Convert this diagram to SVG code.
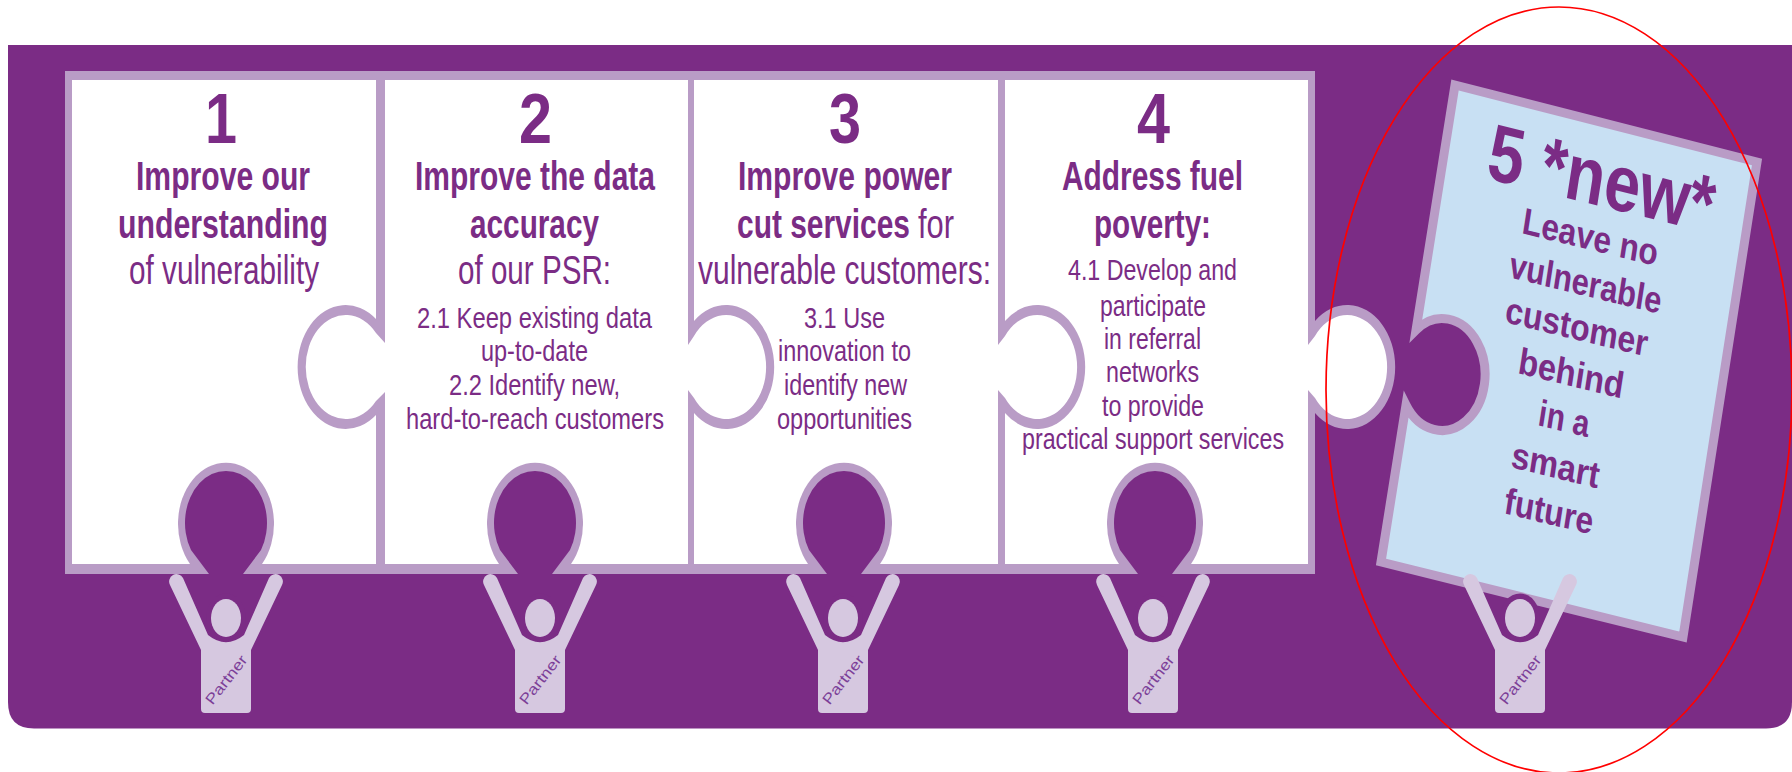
<svg xmlns="http://www.w3.org/2000/svg" width="1792" height="772" viewBox="0 0 1792 772">
<style>
text{font-family:"Liberation Sans",Arial,sans-serif;fill:#7b2c85}
.n{font-size:70px;font-weight:700}
.h{font-size:40px;font-weight:700}
.r{font-size:40px}
.s{font-size:30px}
.b{font-size:37px;font-weight:700}
.big{font-size:80px;font-weight:700}
.p{font-size:15px;fill:#7c3f98}
.f{fill:#b99cc6}
.w{fill:#fff}
.m{fill:#7b2c85}
</style>
<defs>
<g id="person">
<ellipse cx="0" cy="-32" rx="20" ry="24.5" fill="#7b2c85"/>
<path d="M-25,0L-56,-65A7,7 0 0 1 -43,-72L-18,-15Q0,-0.5 18,-15L43,-72A7,7 0 0 1 56,-65L25,0V59Q25,63 21,63H-21Q-25,63 -25,59Z" fill="#d6c8e0"/>
<ellipse cx="0" cy="-32" rx="15" ry="19" fill="#d6c8e0"/>
</g>
<g id="notch">
<path class="f" d="M-36,564A48,61 0 1 1 36,564Z"/>
<path class="m" d="M-17,574L-35,550A41,52 0 1 1 35,550L17,574Z"/>
</g>
</defs>
<path id="panel" class="m" d="M8,45H1792V702Q1792,728.5 1766,728.5H34Q8,728.5 8,702Z"/>
<rect id="frame" class="f" x="65" y="71" width="1250" height="503"/>
<g id="piece4">
<path class="f" d="M1315,321A48,62 0 1 1 1315,413Z"/>
<path class="w" d="M1308,345L1315,336A40,52 0 1 1 1315,398L1308,390Z"/>
<rect class="w" x="1005" y="80" width="303" height="484"/>
<use href="#notch" x="1155"/>
<text class="n" x="1137" y="143" textLength="33" lengthAdjust="spacingAndGlyphs">4</text>
<text class="h" x="1062" y="190" textLength="181" lengthAdjust="spacingAndGlyphs">Address fuel</text>
<text class="h" x="1094" y="238" textLength="117" lengthAdjust="spacingAndGlyphs">poverty:</text>
<text class="s" x="1068" y="280" textLength="169" lengthAdjust="spacingAndGlyphs">4.1 Develop and</text>
<text class="s" x="1100" y="316" textLength="106" lengthAdjust="spacingAndGlyphs">participate</text>
<text class="s" x="1104" y="349" textLength="97" lengthAdjust="spacingAndGlyphs">in referral</text>
<text class="s" x="1106" y="382" textLength="93" lengthAdjust="spacingAndGlyphs">networks</text>
<text class="s" x="1102" y="416" textLength="102" lengthAdjust="spacingAndGlyphs">to provide</text>
<text class="s" x="1022" y="449" textLength="262" lengthAdjust="spacingAndGlyphs">practical support services</text>
</g>
<g id="piece3">
<path class="f" d="M1005,321A48,62 0 1 1 1005,413Z"/>
<path class="w" d="M998,345L1005,336A40,52 0 1 1 1005,398L998,390Z"/>
<rect class="w" x="694" y="80" width="304" height="484"/>
<use href="#notch" x="844"/>
<text class="n" x="829" y="143" textLength="32" lengthAdjust="spacingAndGlyphs">3</text>
<text class="h" x="738" y="190" textLength="214" lengthAdjust="spacingAndGlyphs">Improve power</text>
<text class="h" x="737" y="238" textLength="173" lengthAdjust="spacingAndGlyphs">cut services</text>
<text class="r" x="918" y="238" textLength="36" lengthAdjust="spacingAndGlyphs">for</text>
<text class="r" x="698" y="284" textLength="293" lengthAdjust="spacingAndGlyphs">vulnerable customers:</text>
<text class="s" x="804" y="328" textLength="81" lengthAdjust="spacingAndGlyphs">3.1 Use</text>
<text class="s" x="778" y="361" textLength="133" lengthAdjust="spacingAndGlyphs">innovation to</text>
<text class="s" x="784" y="395" textLength="123" lengthAdjust="spacingAndGlyphs">identify new</text>
<text class="s" x="777" y="429" textLength="135" lengthAdjust="spacingAndGlyphs">opportunities</text>
</g>
<g id="piece1">
<rect class="w" x="72" y="80" width="304" height="484"/>
<use href="#notch" x="226"/>
<text class="n" x="205" y="143" textLength="32" lengthAdjust="spacingAndGlyphs">1</text>
<text class="h" x="136" y="190" textLength="174" lengthAdjust="spacingAndGlyphs">Improve our</text>
<text class="h" x="118" y="238" textLength="210" lengthAdjust="spacingAndGlyphs">understanding</text>
<text class="r" x="129" y="284" textLength="190" lengthAdjust="spacingAndGlyphs">of vulnerability</text>
</g>
<g id="piece2">
<path class="f" d="M376,319A48,62 0 1 0 376,415Z"/>
<path class="w" d="M385,343L376,333A40,52 0 1 0 376,401L385,392Z"/>
<path class="f" d="M694,321A48,62 0 1 1 694,413Z"/>
<path class="w" d="M688,345L694,336A40,52 0 1 1 694,398L688,390Z"/>
<rect class="w" x="385" y="80" width="303" height="484"/>
<use href="#notch" x="535"/>
<text class="n" x="519" y="143" textLength="33" lengthAdjust="spacingAndGlyphs">2</text>
<text class="h" x="415" y="190" textLength="240" lengthAdjust="spacingAndGlyphs">Improve the data</text>
<text class="h" x="470" y="238" textLength="129" lengthAdjust="spacingAndGlyphs">accuracy</text>
<text class="r" x="458" y="284" textLength="153" lengthAdjust="spacingAndGlyphs">of our PSR:</text>
<text class="s" x="417" y="328" textLength="235" lengthAdjust="spacingAndGlyphs">2.1 Keep existing data</text>
<text class="s" x="481" y="361" textLength="107" lengthAdjust="spacingAndGlyphs">up-to-date</text>
<text class="s" x="449" y="395" textLength="171" lengthAdjust="spacingAndGlyphs">2.2 Identify new,</text>
<text class="s" x="406" y="429" textLength="258" lengthAdjust="spacingAndGlyphs">hard-to-reach customers</text>
</g>
<g id="piece5">
<path d="M1455,85L1757,162L1683,637L1381,562L1406,405A43,56 0 1 0 1416,330Z" fill="#c8e0f3" stroke="#b99cc6" stroke-width="9" stroke-linejoin="miter"/>
<text class="big" textLength="232" lengthAdjust="spacingAndGlyphs" transform="matrix(.971 .237 -.153 .988 1485 178)">5 *new*</text>
<text class="b" textLength="139" lengthAdjust="spacingAndGlyphs" transform="matrix(.971 .237 -.153 .988 1521 233)">Leave no</text>
<text class="b" textLength="156" lengthAdjust="spacingAndGlyphs" transform="matrix(.971 .237 -.153 .988 1508 277)">vulnerable</text>
<text class="b" textLength="146" lengthAdjust="spacingAndGlyphs" transform="matrix(.971 .237 -.153 .988 1504 322)">customer</text>
<text class="b" textLength="108" lengthAdjust="spacingAndGlyphs" transform="matrix(.971 .237 -.153 .988 1517 373)">behind</text>
<text class="b" textLength="52" lengthAdjust="spacingAndGlyphs" transform="matrix(.971 .237 -.153 .988 1537 425)">in a</text>
<text class="b" textLength="90" lengthAdjust="spacingAndGlyphs" transform="matrix(.971 .237 -.153 .988 1510 467)">smart</text>
<text class="b" textLength="91" lengthAdjust="spacingAndGlyphs" transform="matrix(.971 .237 -.153 .988 1503 513)">future</text>
</g>
<g id="partners">
<use href="#person" x="226" y="650"/>
<use href="#person" x="540" y="650"/>
<use href="#person" x="843" y="650"/>
<use href="#person" x="1153" y="650"/>
<use href="#person" x="1520" y="650"/>
<text class="p" textLength="58" lengthAdjust="spacingAndGlyphs" transform="translate(212.5 705.7) rotate(-52)">Partner</text>
<text class="p" textLength="58" lengthAdjust="spacingAndGlyphs" transform="translate(526.5 705.7) rotate(-52)">Partner</text>
<text class="p" textLength="58" lengthAdjust="spacingAndGlyphs" transform="translate(829.5 705.7) rotate(-52)">Partner</text>
<text class="p" textLength="58" lengthAdjust="spacingAndGlyphs" transform="translate(1139.5 705.7) rotate(-52)">Partner</text>
<text class="p" textLength="58" lengthAdjust="spacingAndGlyphs" transform="translate(1506.5 705.7) rotate(-52)">Partner</text>
</g>
<ellipse id="highlight" cx="1559" cy="390" rx="233" ry="383" fill="none" stroke="#ff0000" stroke-width="1.7"/>
</svg>
